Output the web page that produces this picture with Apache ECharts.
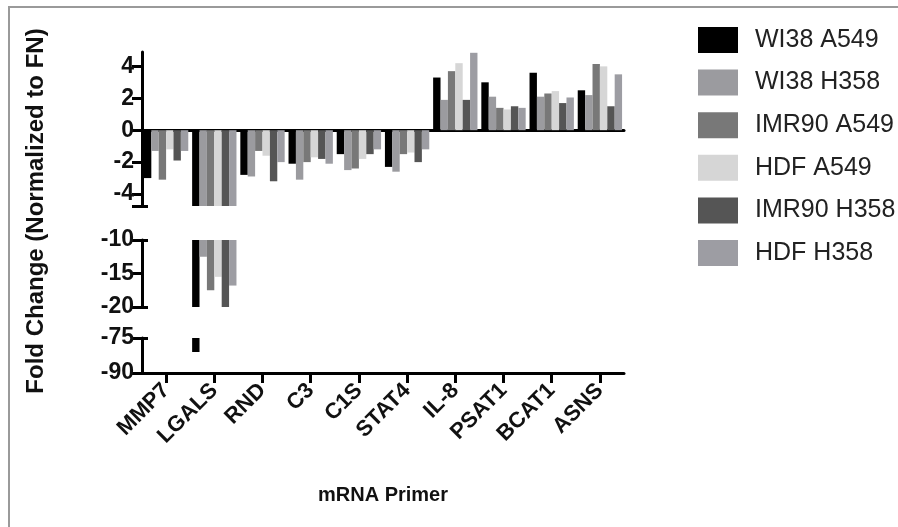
<!DOCTYPE html>
<html>
<head>
<meta charset="utf-8">
<script src="https://cdn.jsdelivr.net/npm/echarts@6/dist/echarts.min.js"></script>
<style>
  html, body { margin: 0; padding: 0; background: #fff; }
  #chart { width: 898px; height: 527px; }
</style>
</head>
<body>
<div id="chart"></div>
<script>
  const primers = ['MMP7', 'LGALS', 'RND', 'C3', 'C1S', 'STAT4', 'IL-8', 'PSAT1', 'BCAT1', 'ASNS']
  const seriesNames = ['WI38 A549', 'WI38 H358', 'IMR90 A549', 'HDF A549', 'IMR90 H358', 'HDF H358']

  // fold change per primer, one list per cell line pair
  const wi38A549 = [-3.0, -81, -2.8, -2.1, -1.5, -2.3, 3.3, 3.0, 3.6, 2.5]
  const wi38H358 = [-1.3, -12.5, -2.9, -3.1, -2.5, -2.6, 1.9, 2.1, 2.1, 2.2]
  const imr90A549 = [-3.1, -17.5, -1.3, -2.0, -2.4, -1.5, 3.7, 1.4, 2.3, 4.15]
  const hdfA549 = [-1.2, -15.5, -1.6, -1.7, -1.8, -1.4, 4.2, 1.3, 2.45, 4.0]
  const imr90H358 = [-1.9, -20, -3.2, -1.8, -1.5, -2.0, 1.9, 1.5, 1.7, 1.5]
  const hdfH358 = [-1.3, -16.8, -2.0, -2.1, -1.2, -1.2, 4.85, 1.4, 2.05, 3.5]

  // broken y axis: three pieces
  const topTicks = [4, 2, 0, -2, -4]
  const midTicks = [-10, -15, -20]
  const lowTicks = [-75, -90]

  const allData = [wi38A549, wi38H358, imr90A549, hdfA549, imr90H358, hdfH358]
  const barColors = ['#000000', '#9b9b9f', '#787878', '#d6d6d6', '#555555', '#9d9da3']

  const pieces = [
    { min: -4.75, max: 4.9, top: 52, height: 154, labels: topTicks, ticks: [...topTicks, -4.75], caps: [-4.75] },
    { min: -20, max: -10, top: 240, height: 67, labels: midTicks, ticks: midTicks, caps: [-10, -20] },
    { min: -90, max: -75, top: 338, height: 35, labels: lowTicks, ticks: lowTicks, caps: [-75] }
  ]

  const font = 'Liberation Sans, Arial, sans-serif'
  const axisLine = { show: true, lineStyle: { color: '#000', width: 3 } }

  const chart = echarts.init(document.getElementById('chart'))

  const grid = pieces.map(p => ({ left: 142, width: 482, top: p.top, height: p.height }))

  const xAxis = pieces.map((p, i) => {
    const ax = {
      type: 'category',
      gridIndex: i,
      data: primers,
      axisLine: { ...axisLine, onZero: i === 0 },
      axisTick: { show: false },
      axisLabel: { show: false },
      show: i !== 1
    }
    if (i === 2) {
      ax.axisTick = { show: true, alignWithLabel: true, interval: 0, length: 10, lineStyle: { color: '#000', width: 3 } }
      ax.axisLabel = {
        show: true, interval: 0, rotate: 45, margin: 14, fontSize: 22, fontWeight: 'bold', color: '#111', fontFamily: font
      }
      ax.name = 'mRNA Primer'
      ax.nameLocation = 'middle'
      ax.nameGap = 112
      ax.nameTextStyle = { fontSize: 20, fontWeight: 'bold', color: '#111', fontFamily: font }
    }
    return ax
  })

  const yAxis = []
  pieces.forEach((p, i) => {
    yAxis.push({
      type: 'value',
      gridIndex: i,
      min: p.min,
      max: p.max,
      splitLine: { show: false },
      axisLine: axisLine,
      axisTick: { show: true, length: 10, customValues: p.ticks, lineStyle: { color: '#000', width: 3 } },
      axisLabel: {
        customValues: p.labels, margin: 8, fontSize: 23, fontWeight: 'bold', color: '#111', fontFamily: font
      }
    })
  })
  // caps at the ends of each piece (ticks pointing into the plot)
  pieces.forEach((p, i) => {
    yAxis.push({
      type: 'value',
      gridIndex: i,
      min: p.min,
      max: p.max,
      position: 'left',
      splitLine: { show: false },
      axisLine: { show: false },
      axisLabel: { show: false },
      axisTick: { show: true, inside: true, length: 6, customValues: p.caps, lineStyle: { color: '#000', width: 3 } }
    })
  })

  const series = []
  pieces.forEach((p, i) => {
    seriesNames.forEach((name, s) => {
      series.push({
        type: 'bar',
        name: name,
        xAxisIndex: i,
        yAxisIndex: i,
        data: allData[s],
        barGap: '0%',
        barCategoryGap: '8%',
        itemStyle: { color: barColors[s] },
        clip: true
      })
    })
  })

  chart.setOption({
    animation: false,
    backgroundColor: '#fff',
    color: barColors,
    grid: grid,
    xAxis: xAxis,
    yAxis: yAxis,
    legend: {
      data: seriesNames,
      orient: 'vertical',
      left: 693,
      top: 22,
      icon: 'rect',
      itemWidth: 40,
      itemHeight: 26,
      itemGap: 16.6,
      textStyle: { fontSize: 25, color: '#222', fontFamily: font, padding: [0, 0, 0, 12] }
    },
    graphic: [
      {
        type: 'polyline',
        shape: { points: [[9, 527], [9, 7], [898, 7]] },
        style: { stroke: '#9a9a9a', lineWidth: 2, fill: null }
      },
      {
        type: 'text',
        x: 36,
        y: 211,
        rotation: Math.PI / 2,
        style: {
          text: 'Fold Change (Normalized to FN)',
          fontSize: 24,
          fontWeight: 'bold',
          fontFamily: font,
          fill: '#111',
          textAlign: 'center',
          textVerticalAlign: 'middle'
        }
      }
    ],
    series: series
  })
</script>
</body>
</html>
